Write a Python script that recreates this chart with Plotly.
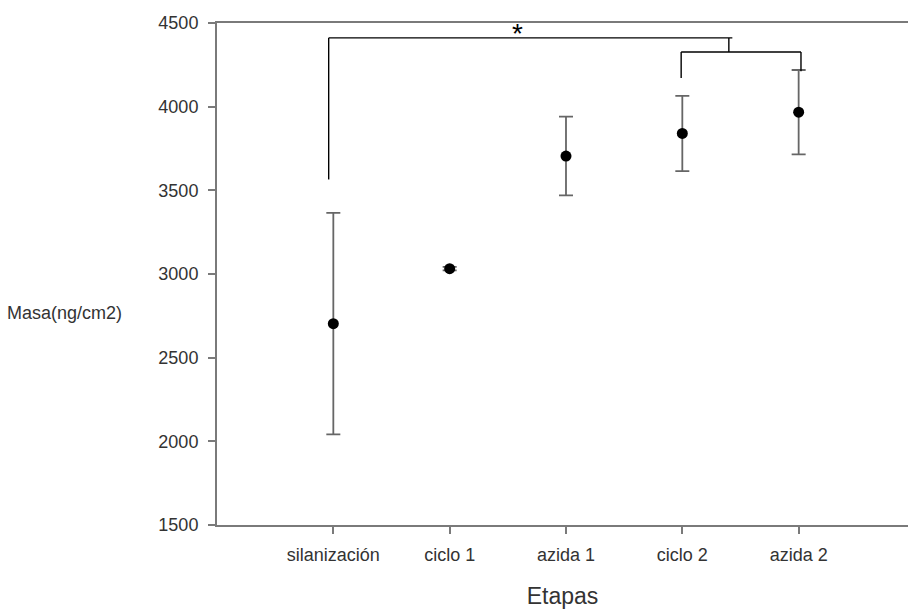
import plotly.graph_objects as go

categories = ["silanización", "ciclo 1", "azida 1", "ciclo 2", "azida 2"]
cat_pos = [1, 2, 3, 4, 5]
means = [2703, 3032, 3705, 3840, 3967]
errors = [662, 10, 235, 225, 252]

y_ticks = [1500, 2000, 2500, 3000, 3500, 4000, 4500]

# significance bracket (data coordinates)
br_main_y = 4411
br_sub_y = 4327
br_left_x = 0.96
br_left_bottom = 3565
br_join_x = 4.40
br_main_end = 4.43
br_sub_left = 3.99
br_sub_right = 5.02
br_sub_left_bottom = 4172
br_sub_right_bottom = 4211

fig = go.Figure()
fig.add_trace(go.Scatter(
    x=cat_pos, y=means, mode="markers",
    marker=dict(color="black", size=11, symbol="circle"),
    error_y=dict(type="data", array=errors, visible=True, color="#666666",
                 thickness=1.8, width=7),
    showlegend=False, hoverinfo="skip",
))

line = dict(color="black", width=1.4)
shapes = [
    dict(type="line", x0=br_left_x, x1=br_main_end, y0=br_main_y, y1=br_main_y, line=line),
    dict(type="line", x0=br_left_x, x1=br_left_x, y0=br_main_y, y1=br_left_bottom, line=line),
    dict(type="line", x0=br_join_x, x1=br_join_x, y0=br_main_y, y1=br_sub_y, line=line),
    dict(type="line", x0=br_sub_left, x1=br_sub_right, y0=br_sub_y, y1=br_sub_y, line=line),
    dict(type="line", x0=br_sub_left, x1=br_sub_left, y0=br_sub_y, y1=br_sub_left_bottom, line=line),
    dict(type="line", x0=br_sub_right, x1=br_sub_right, y0=br_sub_y, y1=br_sub_right_bottom, line=line),
]
for s in shapes:
    s["xref"] = "x"
    s["yref"] = "y"

W, H = 908, 610
L, R, T, B = 217, 0, 23, 85

axis_color = "#7a7a7a"
font_color = "#333333"
fig.update_layout(
    width=W, height=H,
    margin=dict(l=L, r=R, t=T, b=B),
    paper_bgcolor="white", plot_bgcolor="white",
    font=dict(family="Liberation Sans, Arial, sans-serif", size=18, color=font_color),
    shapes=shapes,
    xaxis=dict(
        range=[0, 5.94], tickmode="array", tickvals=cat_pos, ticktext=categories,
        showline=True, linecolor=axis_color, linewidth=2, mirror=True,
        ticks="outside", ticklen=7, tickwidth=1.5, tickcolor=axis_color,
        ticklabelstandoff=5,
        showgrid=False, zeroline=False,
        title=dict(text="Etapas", font=dict(size=23, color=font_color), standoff=24),
    ),
    yaxis=dict(
        range=[1500, 4500], tickvals=y_ticks,
        showline=True, linecolor=axis_color, linewidth=2,
        ticks="outside", ticklen=7, tickwidth=1.5, tickcolor=axis_color,
        ticklabelstandoff=6,
        showgrid=False, zeroline=False,
    ),
    annotations=[
        dict(text="*", x=2.58, y=4435, xref="x", yref="y", showarrow=False,
             font=dict(size=28, color="black")),
        dict(text="Masa(ng/cm2)", xref="paper", yref="paper",
             x=-(L - 5) / (W - L - R), y=(H - B - 313) / (H - T - B),
             xanchor="left", yanchor="middle", showarrow=False,
             font=dict(size=18, color=font_color)),
    ],
)

fig.write_html("out.html", config={"displayModeBar": False},
               post_script="document.body.style.margin='0';document.body.style.overflow='hidden';")
